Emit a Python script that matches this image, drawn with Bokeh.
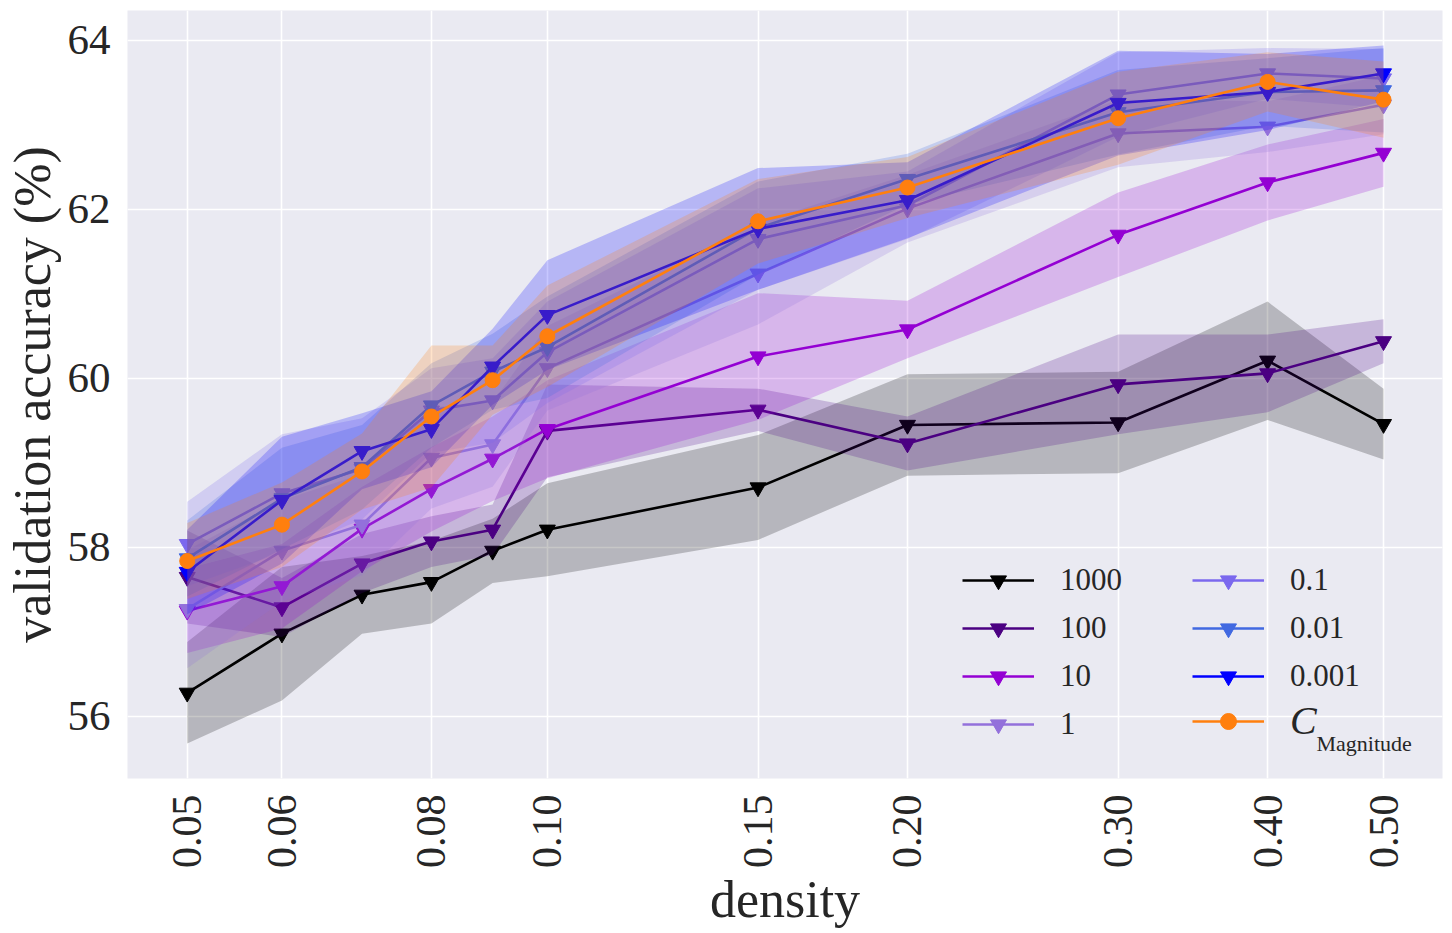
import math
import numpy as np
from bokeh.plotting import figure
from bokeh.models import Range1d, FixedTicker, PrintfTickFormatter, Legend, LegendItem, Label
from bokeh.core.properties import value
from bokeh.embed import file_html
from bokeh.resources import INLINE

density = [0.05, 0.06, 0.07, 0.08, 0.09, 0.10, 0.15, 0.20, 0.30, 0.40, 0.50]
x_ticks = [0.05, 0.06, 0.08, 0.10, 0.15, 0.20, 0.30, 0.40, 0.50]
y_ticks = [56, 58, 60, 62, 64]

names = ["1000", "100", "10", "1", "0.1", "0.01", "0.001", "C"]
colors = ["#000000", "#4B0082", "#9400D3", "#9370DB", "#7B68EE", "#4169E1", "#0000FF", "#FF7F0E"]

mean_1000 = [56.28, 56.98, 57.44, 57.59, 57.96, 58.21, 58.71, 59.45, 59.48, 60.21, 59.46]
std_1000 = [0.60, 0.79, 0.46, 0.49, 0.38, 0.55, 0.62, 0.60, 0.60, 0.70, 0.42]
mean_100 = [57.65, 57.29, 57.81, 58.07, 58.21, 59.38, 59.63, 59.23, 59.93, 60.06, 60.44]
std_100 = [0.55, 0.35, 0.35, 0.30, 0.30, 0.55, 0.25, 0.32, 0.59, 0.46, 0.26]
mean_10 = [57.25, 57.54, 58.22, 58.69, 59.05, 59.40, 60.26, 60.58, 61.70, 62.32, 62.67]
std_10 = [0.50, 0.50, 0.50, 0.50, 0.50, 0.58, 0.75, 0.34, 0.50, 0.45, 0.40]
mean_1 = [57.27, 57.96, 58.27, 59.06, 59.22, 60.12, 61.24, 62.01, 62.90, 62.98, 63.24]
std_1 = [0.70, 0.60, 0.60, 0.60, 0.50, 0.50, 0.60, 0.40, 0.40, 0.30, 0.35]
mean_01 = [58.04, 58.64, 58.93, 59.62, 59.74, 60.31, 61.65, 62.05, 63.36, 63.61, 63.55]
std_01 = [0.50, 0.70, 0.60, 0.50, 0.50, 0.60, 0.60, 0.40, 0.50, 0.30, 0.35]
mean_001 = [57.87, 58.58, 58.95, 59.68, 60.08, 60.37, 61.78, 62.36, 63.15, 63.39, 63.41]
std_001 = [0.45, 0.60, 0.50, 0.50, 0.45, 0.60, 0.55, 0.30, 0.50, 0.40, 0.50]
mean_0001 = [57.71, 58.56, 59.14, 59.40, 60.14, 60.75, 61.77, 62.11, 63.26, 63.39, 63.61]
std_0001 = [0.50, 0.75, 0.45, 0.45, 0.45, 0.65, 0.72, 0.45, 0.62, 0.45, 0.33]
mean_mag = [57.84, 58.27, 58.90, 59.55, 59.98, 60.50, 61.86, 62.26, 63.08, 63.51, 63.30]
std_mag = [0.45, 0.50, 0.45, 0.84, 0.41, 0.60, 0.50, 0.36, 0.55, 0.35, 0.45]

means = [mean_1000, mean_100, mean_10, mean_1, mean_01, mean_001, mean_0001, mean_mag]
stds = [std_1000, std_100, std_10, std_1, std_01, std_001, std_0001, std_mag]

FONT = "Liberation Serif"
TXT = "#262626"

p = figure(width=1450, height=932, x_axis_type="log",
           x_range=Range1d(0.04457, 0.5601), y_range=Range1d(55.266, 64.355),
           output_backend="svg", toolbar_location=None,
           min_border_left=125, min_border_right=8, min_border_top=10, min_border_bottom=154)
p.background_fill_color = "#EAEAF2"
p.border_fill_color = "white"
p.outline_line_color = None

p.xaxis.ticker = FixedTicker(ticks=x_ticks, minor_ticks=[])
p.yaxis.ticker = FixedTicker(ticks=y_ticks, minor_ticks=[])
p.xaxis.formatter = PrintfTickFormatter(format="%.2f")
p.xaxis.major_label_orientation = math.pi / 2
for ax in (p.xaxis, p.yaxis):
    ax.axis_line_color = None
    ax.major_tick_line_color = None
    ax.minor_tick_line_color = None
    ax.major_label_text_font = FONT
    ax.major_label_text_font_size = "43px"
    ax.major_label_text_color = TXT
    ax.axis_label_text_font = FONT
    ax.axis_label_text_font_size = "52px"
    ax.axis_label_text_font_style = "normal"
    ax.axis_label_text_color = TXT
p.xaxis.major_label_text_font_size = "42px"
p.xaxis.major_label_standoff = 10
p.yaxis.major_label_standoff = 11
p.xaxis.axis_label = "density"
p.yaxis.axis_label = "validation accuracy (%)"
p.xaxis.axis_label_standoff = 0
p.yaxis.axis_label_standoff = 4

p.xgrid.grid_line_color = "white"
p.ygrid.grid_line_color = "white"
p.xgrid.grid_line_width = 1.6
p.ygrid.grid_line_width = 1.6

items = []
for name, col, m, s in zip(names, colors, means, stds):
    m = np.array(m)
    s = np.array(s)
    p.varea(x=density, y1=m - s, y2=m + s, fill_color=col, fill_alpha=0.22)
    lr = p.line(density, m, line_color=col, line_width=2.6)
    if name == "C":
        sr = p.scatter(density, m, marker="circle", size=15, fill_color=col, line_color=col)
    else:
        sr = p.scatter(density, m, marker="inverted_triangle", size=16, fill_color=col, line_color=col)
    items.append(LegendItem(label=value(name), renderers=[lr, sr]))

common = dict(glyph_width=72, glyph_height=40, label_height=40, label_standoff=26, spacing=8,
              padding=0, margin=0, border_line_color=None, background_fill_alpha=0,
              label_text_font=FONT, label_text_font_size="31px", label_text_color=TXT)

leg1 = Legend(items=items[0:4], location=(835, 34), **common)
leg2 = Legend(items=items[4:7], location=(1065, 82), **common)
leg3 = Legend(items=[items[7]], location=(1065, 34), **common)
leg3.label_text_font_style = "italic"
leg3.label_text_font_size = "40px"
for lg in (leg1, leg2, leg3):
    p.add_layout(lg)

sub = Label(x=0.4395, y=55.68, text="Magnitude", text_font=FONT, text_font_size="22px",
            text_color=TXT, text_baseline="alphabetic")
p.add_layout(sub)

open("out.html", "w").write(file_html(p, INLINE))
